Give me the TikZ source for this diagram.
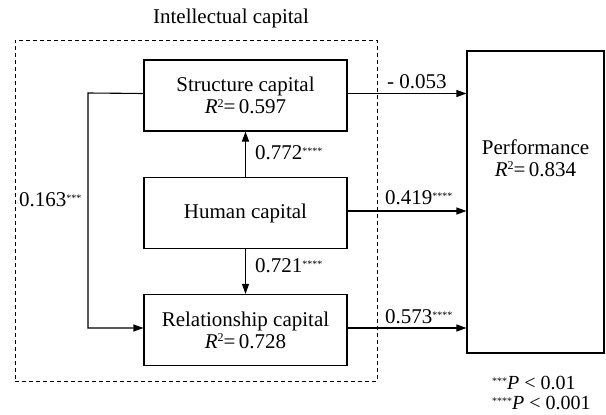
\documentclass[tikz,border=0pt]{standalone}
\usepackage{fontspec}
\setmainfont{Liberation Serif}
\usetikzlibrary{arrows.meta,calc}
\newcommand\mystars[1]{\raisebox{5.5pt}{\fontsize{10}{10}\selectfont #1}}
\newcommand\rsq{\textit{R}\raisebox{6.5pt}{\fontsize{12}{12}\selectfont 2}=\,}
\begin{document}
\begin{tikzpicture}[x=1pt,y=-1pt,
  box/.style={draw,line width=1.1pt,minimum width=203pt,minimum height=71pt,inner sep=0pt,align=center,font=\fontsize{21}{22}\selectfont},
  arr/.style={line width=1.1pt,-{Triangle[length=10pt,width=7pt]}},
  lbl/.style={anchor=west,inner sep=0pt,font=\fontsize{21}{22}\selectfont},
  dashbox/.style={draw,line width=0.8pt,dash pattern=on 4pt off 3pt}]
\useasboundingbox (0,0) rectangle (606,415);
% dashed frame
\node[dashbox,minimum width=362pt,minimum height=341pt,inner sep=0pt] (frame) at (196,210.5) {};
\node[lbl,anchor=center] (title) at (231,18) {Intellectual capital};
% boxes
\node[box] (sc) at (245.5,95.5) {Structure capital\\\rsq 0.597};
\node[box] (hc) at (245.5,213) {Human capital};
\node[box] (rc) at (245.5,330) {Relationship capital\\\rsq 0.728};
\node[draw,line width=1.1pt,minimum width=137pt,minimum height=302pt,inner sep=0pt] (perf) at (535.5,202) {};
\node[lbl,anchor=center,align=center] (perftext) at (535.5,158) {Performance\\\rsq 0.834};
% arrows to performance
\draw[arr] ($(sc.east)+(0,-2)$) -- ($(sc.east -| perf.west)+(0,-2)$);
\draw[arr] ($(hc.east)+(0,-2)$) -- ($(hc.east -| perf.west)+(0,-2)$);
\draw[arr] ($(rc.east)+(0,-2)$) -- ($(rc.east -| perf.west)+(0,-2)$);
% vertical arrows
\draw[arr] (hc.north) -- (sc.south);
\draw[arr] (hc.south) -- (rc.north);
% loop
\coordinate (lt) at (88,93);
\coordinate (lb) at (88,328);
\draw[arr] ($(sc.west)+(0,-2)$) -- (lt) -- (lb) -- ($(rc.west)+(0,-2)$);
% labels
\node[lbl] (l1) at (387,82) {- 0.053};
\node[lbl] (l2) at (385,198) {0.419\mystars{****}};
\node[lbl] (l3) at (385,317) {0.573\mystars{****}};
\node[lbl] (l4) at (255,153) {0.772\mystars{****}};
\node[lbl] (l5) at (255,266) {0.721\mystars{****}};
\node[lbl] (l6) at (19,200) {0.163\mystars{***}};
% footnotes
\node[lbl,align=left,font=\fontsize{20}{20}\selectfont] (fn) at (492,393) {\mystars{***}\textit{P} < 0.01\\\mystars{****}\textit{P} < 0.001};
\end{tikzpicture}
\end{document}
